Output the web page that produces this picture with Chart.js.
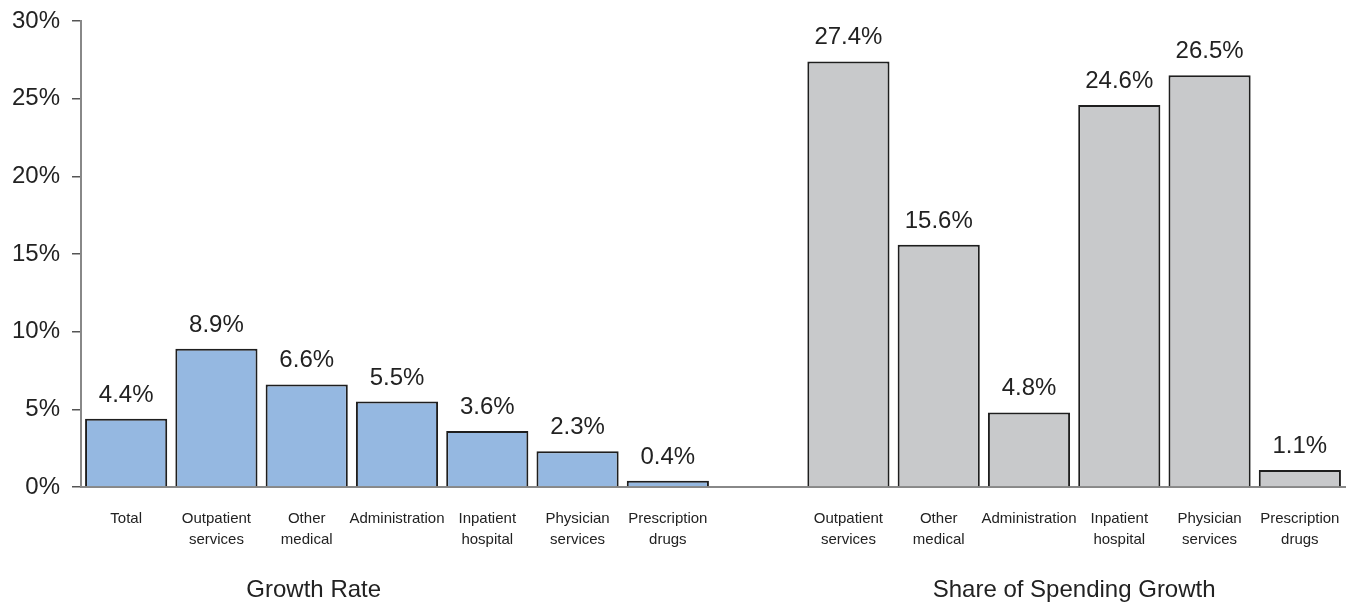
<!DOCTYPE html>
<html>
<head>
<meta charset="utf-8">
<script src="https://cdn.jsdelivr.net/npm/chart.js@4"></script>
<style>
  body { margin: 0; background: #fff; }
  #wrap { width: 1355px; height: 604px; }
</style>
</head>
<body>
<div id="wrap"><canvas id="barChart" width="1355" height="604"></canvas></div>
<script>
// growth rate by service
const growthCategories = [['Total'], ['Outpatient', 'services'], ['Other', 'medical'], ['Administration'],
  ['Inpatient', 'hospital'], ['Physician', 'services'], ['Prescription', 'drugs']];
const growthRate = [4.4, 8.9, 6.6, 5.5, 3.6, 2.3, 0.4];

// share of spending growth
const shareCategories = [['Outpatient', 'services'], ['Other', 'medical'], ['Administration'],
  ['Inpatient', 'hospital'], ['Physician', 'services'], ['Prescription', 'drugs']];
const shareOfGrowth = [27.4, 15.6, 4.8, 24.6, 26.5, 1.1];

const groupTitles = ['Growth Rate', 'Share of Spending Growth'];
const yTicks = [0, 5, 10, 15, 20, 25, 30];

// one empty slot between the two groups
const labels = [...growthCategories, [''], ...shareCategories];
const values = [...growthRate, null, ...shareOfGrowth];
const colors = [...growthRate.map(() => '#95b8e1'), 'transparent', ...shareOfGrowth.map(() => '#c8c9cb')];

const FONT = "'Liberation Sans', Arial, sans-serif";

// value labels above bars + group titles under the axis
const annotate = {
  id: 'annotate',
  afterDatasetsDraw(chart) {
    const ctx = chart.ctx;
    const meta = chart.getDatasetMeta(0);
    ctx.save();
    ctx.fillStyle = '#222';
    ctx.font = '24px ' + FONT;
    ctx.textAlign = 'center';
    ctx.textBaseline = 'alphabetic';
    meta.data.forEach((bar, i) => {
      if (values[i] == null) return;
      ctx.fillText(values[i].toFixed(1) + '%', bar.x, bar.y - 17);
    });

    const x = chart.scales.x;
    const y0 = chart.chartArea.bottom + 110;
    const leftX = x.getPixelForValue(2) + 7;
    const n = growthCategories.length + 1;
    const rightX = (x.getPixelForValue(n + 2) + x.getPixelForValue(n + 3)) / 2;
    ctx.fillText(groupTitles[0], leftX, y0);
    ctx.fillText(groupTitles[1], rightX, y0);
    ctx.restore();
  }
};

new Chart(document.getElementById('barChart'), {
  type: 'bar',
  data: {
    labels: labels,
    datasets: [{
      data: values,
      backgroundColor: colors,
      borderColor: '#1e1e1e',
      borderWidth: 2,
      borderSkipped: 'bottom',
      barPercentage: 0.91,
      categoryPercentage: 1.0
    }]
  },
  options: {
    responsive: false,
    animation: false,
    layout: { padding: { top: 21, right: 10, left: 0, bottom: 0 } },
    plugins: { legend: { display: false }, tooltip: { enabled: false } },
    scales: {
      x: {
        grid: { display: false },
        border: { display: true, color: '#888', width: 2 },
        ticks: {
          color: '#222',
          font: { family: FONT, size: 15, lineHeight: 1.4 },
          padding: 13,
          maxRotation: 0,
          autoSkip: false
        },
        afterFit(scale) { scale.height = 117; scale.paddingLeft = 0; scale.paddingRight = 0; }
      },
      y: {
        min: 0,
        max: 30,
        afterBuildTicks(scale) { scale.ticks = yTicks.map(v => ({ value: v })); },
        grid: { drawOnChartArea: false, tickLength: 9, color: '#555', lineWidth: 1.5 },
        border: { display: true, color: '#888', width: 2 },
        ticks: {
          color: '#222',
          font: { family: FONT, size: 24 },
          padding: 12,
          callback: v => v + '%'
        },
        afterFit(scale) { scale.width = 81; scale.paddingTop = 0; scale.paddingBottom = 0; }
      }
    }
  },
  plugins: [annotate]
});
</script>
</body>
</html>
